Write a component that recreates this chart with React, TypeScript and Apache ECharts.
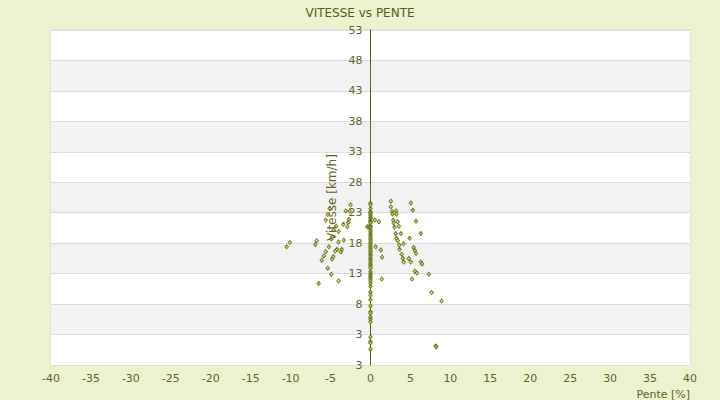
import React, { useEffect, useRef } from "react";
import * as echarts from "echarts";

// Tick labels as printed on the reference axes
const yTickLabels = ["3", "3", "8", "13", "18", "23", "28", "33", "38", "43", "48", "53"];
const Y_OFFSET = 2; // the bottom gridline sits 5 below the "3" line

// Descents (negative slope)
const descentPente = [-10.5, -10.1, -6.9, -6.75, -6.5, -6.1, -5.85, -5.6, -5.35, -4.9, -5.2, -5.6, -5.35, -5.1, -4.9, -4.8, -4.8, -4.65, -4.6, -4.4, -4.2, -4.0, -4.0, -3.7, -3.6, -3.35, -3.1, -2.9, -2.8, -2.7, -2.5, -2.6, -4.3, -4.0, -3.4, -0.4, -0.2];
const descentVitesse = [17.4, 18.1, 17.8, 18.4, 11.4, 15.2, 15.9, 16.6, 13.9, 12.9, 17.4, 21.8, 22.7, 23.7, 18.7, 19.0, 15.4, 15.8, 20.2, 16.7, 17.0, 11.8, 18.2, 16.6, 17.0, 18.5, 23.3, 20.7, 21.4, 21.9, 24.3, 23.3, 20.8, 19.9, 21.1, 20.7, 20.7];

// Flat sections (slope 0)
const flatVitesse = [24.6, 24.3, 23.7, 23.2, 23.0, 22.8, 22.5, 22.2, 22.0, 21.7, 21.5, 21.3, 20.8, 20.6, 20.2, 19.9, 19.6, 19.3, 19.0, 18.7, 18.4, 18.1, 17.8, 17.5, 17.2, 16.9, 16.6, 16.3, 16.0, 15.7, 15.4, 15.1, 14.8, 14.5, 14.2, 13.9, 13.3, 13.0, 12.7, 12.4, 12.1, 11.8, 11.4, 10.9, 10.0, 9.5, 8.7, 7.7, 6.75, 6.5, 5.9, 5.5, 5.1, 2.6, 1.8, 1.6, 0.6];

// Climbs (positive slope)
const climbPente = [0.55, 1.05, 0.65, 1.3, 1.45, 1.4, 2.55, 2.55, 2.7, 2.75, 3.2, 3.25, 2.85, 2.9, 3.0, 3.4, 3.55, 3.15, 3.8, 3.25, 3.4, 3.6, 3.65, 4.15, 3.9, 4.05, 4.15, 4.8, 5.05, 5.2, 4.9, 5.05, 5.3, 5.7, 5.4, 5.55, 5.7, 6.3, 6.3, 6.45, 5.55, 5.8, 7.3, 7.65, 8.9, 8.15, 8.25];
const climbVitesse = [21.8, 21.5, 17.4, 16.9, 15.7, 12.1, 24.9, 24.0, 23.2, 22.8, 23.3, 22.8, 21.8, 21.3, 20.6, 21.5, 20.8, 19.6, 19.6, 18.8, 18.4, 17.7, 17.0, 17.9, 16.2, 15.5, 14.9, 15.5, 14.9, 12.1, 18.8, 24.6, 23.4, 21.6, 17.3, 16.8, 16.3, 19.6, 14.9, 14.6, 13.4, 13.1, 12.9, 9.9, 8.5, 1.1, 1.0];

const xMin = -40;
const xMax = 40;
const xInterval = 5;

const olive = "#5a6400";
const textOlive = "#66662a";

const GRID_LEFT = 51;
const GRID_RIGHT = 30;
const CHART_W = 720;

export default function App() {
  const ref = useRef<HTMLDivElement>(null);

  useEffect(() => {
    document.body.style.margin = "0";
    if (!ref.current) return;
    const chart = echarts.init(ref.current, null, { renderer: "svg" });

    const points: number[][] = [];
    descentPente.forEach((p, i) => points.push([p, descentVitesse[i] + Y_OFFSET]));
    flatVitesse.forEach((v) => points.push([0, v + Y_OFFSET]));
    climbPente.forEach((p, i) => points.push([p, climbVitesse[i] + Y_OFFSET]));

    const yMax = (yTickLabels.length - 1) * 5;
    const plotW = CHART_W - GRID_LEFT - GRID_RIGHT;
    // shift the y axis from the left edge to where pente = 0
    const zeroShift = (plotW * (0 - xMin)) / (xMax - xMin);

    chart.setOption({
      animation: false,
      backgroundColor: "#ecf1cf",
      textStyle: { fontFamily: "DejaVu Sans" },
      title: {
        text: "VITESSE vs PENTE",
        left: "center",
        top: 2,
        textStyle: { color: "#5c5c1e", fontSize: 12, fontWeight: "normal", fontFamily: "DejaVu Sans" },
      },
      grid: {
        left: GRID_LEFT,
        right: GRID_RIGHT,
        top: 30,
        bottom: 35,
        show: true,
        borderColor: "#d9d9d9",
        borderWidth: 1,
        backgroundColor: "#ffffff",
      },
      xAxis: {
        type: "value",
        min: xMin,
        max: xMax,
        interval: xInterval,
        name: "Pente [%]",
        nameLocation: "end",
        nameGap: 0,
        nameTextStyle: { color: textOlive, fontSize: 11, align: "right", verticalAlign: "top", padding: [24, 0, 0, 0] },
        axisLine: { show: false, onZero: false },
        axisTick: { show: false },
        splitLine: { show: false },
        axisLabel: { color: textOlive, fontSize: 11, margin: 8 },
      },
      yAxis: {
        type: "value",
        min: 0,
        max: yMax,
        interval: 5,
        offset: -zeroShift,
        name: "Vitesse [km/h]",
        nameLocation: "middle",
        nameGap: 30,
        nameTextStyle: { color: textOlive, fontSize: 12 },
        axisLine: { show: true, onZero: false, lineStyle: { color: olive, width: 1 } },
        axisTick: { show: false },
        axisLabel: {
          color: textOlive,
          fontSize: 11,
          margin: 8,
          formatter: (_v: number, i: number) => yTickLabels[i] ?? "",
        },
        splitLine: { show: true, lineStyle: { color: "#dcdcdc", width: 1 } },
        splitArea: { show: true, areaStyle: { color: ["#ffffff", "#f2f2f2"] } },
      },
      series: [
        {
          type: "scatter",
          data: points,
          symbol: "diamond",
          symbolSize: [3.5, 4],
          itemStyle: { color: "#d4e08a", borderColor: olive, borderWidth: 1 },
          z: 3,
        },
      ],
    });

    return () => chart.dispose();
  }, []);

  return <div ref={ref} style={{ width: CHART_W, height: 400 }} />;
}
